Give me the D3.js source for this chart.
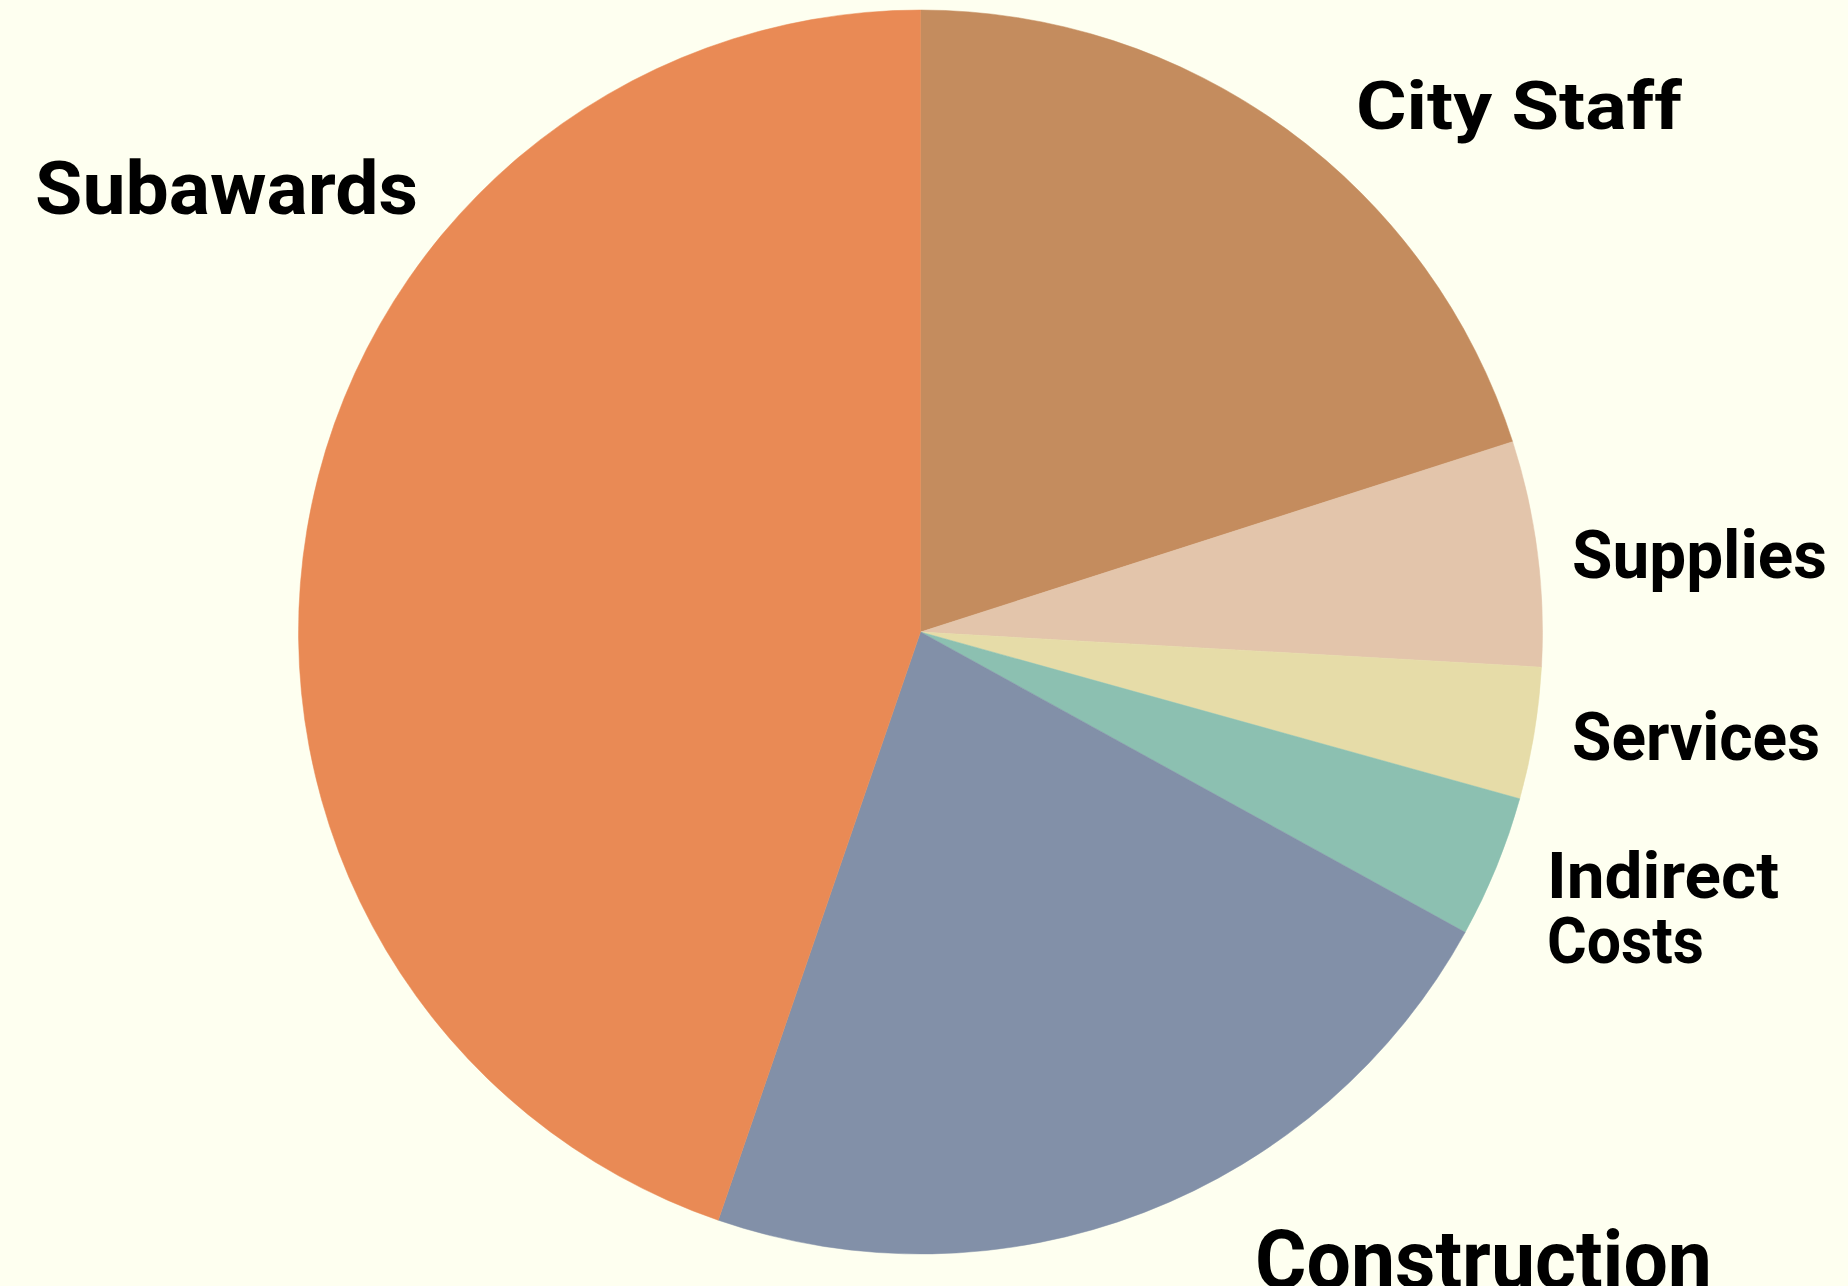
<!DOCTYPE html>
<html>
<head>
<meta charset="utf-8">
<script src="https://cdn.jsdelivr.net/npm/d3@7"></script>
<style>
  html, body { margin: 0; padding: 0; background: #FEFFF0; overflow: hidden; }
  svg { display: block; }
  text { font-family: Roboto, "Noto Sans", sans-serif; font-weight: 700; fill: #000; }
</style>
</head>
<body>
<script>
// ---- data ----
const categories = ["City Staff", "Supplies", "Services", "Indirect Costs", "Construction", "Subawards"];
const shares = [20.05, 5.85, 3.42, 3.70, 22.25, 44.73];
const colors = ["#C48C5E", "#E3C5AB", "#E6DCA8", "#8CC0B1", "#8290A8", "#E98A55"];

// ---- layout (label placement, not data) ----
const W = 1848, H = 1286;
const cx = 920.5, cy = 632, R = 622;
const labelLayout = {
  "City Staff":     { x: 1356, y: 129, size: 67, width: 326 },
  "Supplies":       { x: 1572, y: 578, size: 66, width: 255 },
  "Services":       { x: 1572, y: 760, size: 66, width: 248 },
  "Indirect Costs": { x: 1547, y: 898, size: 64, lines: ["Indirect", "Costs"], widths: [232, 157], lh: 65 },
  "Construction":   { x: 1255, y: 1288, size: 82, width: 457 },
  "Subawards":      { x: 35,   y: 214, size: 75, width: 383 }
};

const svg = d3.select("body").append("svg").attr("width", W).attr("height", H);
svg.append("rect").attr("width", W).attr("height", H).attr("fill", "#FEFFF0");

const data = categories.map((c, i) => ({ name: c, value: shares[i], color: colors[i] }));
const pie = d3.pie().sort(null).value(d => d.value);
const arc = d3.arc().innerRadius(0).outerRadius(R);

const g = svg.append("g").attr("transform", `translate(${cx},${cy})`);
g.selectAll("path").data(pie(data)).join("path")
  .attr("d", arc)
  .attr("fill", d => d.data.color)
  .attr("stroke", d => d.data.color)
  .attr("stroke-width", 0.5);

const lab = svg.append("g");
data.forEach(d => {
  const L = labelLayout[d.name];
  const lines = L.lines || [d.name];
  const widths = L.widths || [L.width];
  lines.forEach((t, k) => {
    lab.append("text")
      .attr("x", L.x)
      .attr("y", L.y + k * (L.lh || 0))
      .attr("font-size", L.size)
      .attr("textLength", widths[k])
      .attr("lengthAdjust", "spacingAndGlyphs")
      .text(t);
  });
});
</script>
</body>
</html>
